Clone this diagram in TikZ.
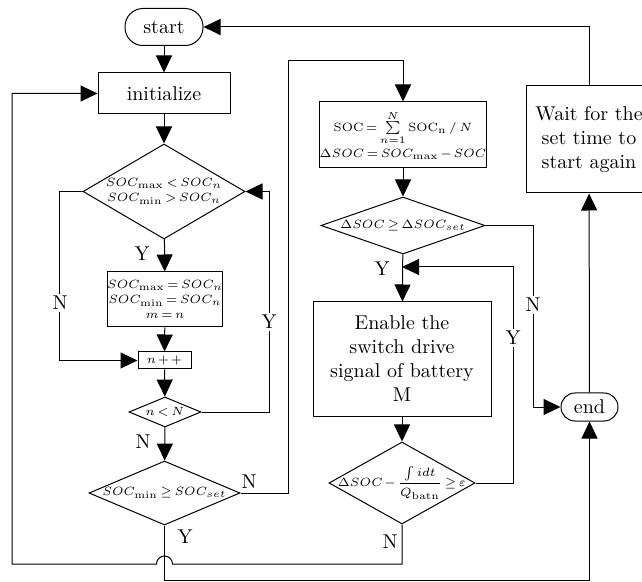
\documentclass[tikz,border=0pt]{standalone}
\usepackage{amsmath,amssymb}
\usetikzlibrary{arrows.meta,shapes.geometric}

% small, tight maths for the boxes and diamonds
\newcommand\eqsize{\fontsize{6.5}{7.5}\selectfont\medmuskip=2mu\thickmuskip=3mu}

\begin{document}
\begin{tikzpicture}[x=0.5pt,y=-0.5pt,line width=0.5pt,>={Triangle[length=8.5pt,width=8pt]},
  proc/.style={draw,inner sep=1pt,align=center},
  term/.style={draw,rounded corners=9pt,inner sep=0pt},
  dec/.style={draw,diamond,inner sep=0pt},
  dtext/.style={font=\eqsize,align=center,inner sep=0pt},
  lbl/.style={fill=white,inner sep=1pt}]
\useasboundingbox (0,0) rectangle (642,582);

% left column
\node[term,minimum width=39pt,minimum height=18.5pt] (start) at (164,27) {start};
\node[proc,minimum width=66pt,minimum height=20.5pt] (init) at (164,93.5) {initialize};
\node[dec,minimum width=81pt,minimum height=47.5pt,
  label={[dtext]center:{$SOC_{\max}<SOC_n$\\$SOC_{\min}>SOC_n$}}] (cmp) at (164,191.5) {};
\node[proc,font=\eqsize,minimum width=56pt,minimum height=27.5pt,inner sep=0pt] (upd) at (165,299.5) {$SOC_{\max}=SOC_n$\\$SOC_{\min}=SOC_n$\\$m=n$};
\node[proc,font=\eqsize,minimum width=26.5pt,minimum height=8.5pt,inner sep=0pt] (inc) at (164.5,360.5) {$n++$};
\node[dec,minimum width=36pt,minimum height=15pt,label={[dtext]center:$n<N$}] (cnt) at (165,412) {};
\node[dec,minimum width=75.5pt,minimum height=32pt,
  label={[dtext]center:$SOC_{\min}\geq SOC_{set}$}] (low) at (164.5,493) {};

% middle column
\node[proc,font=\eqsize,minimum width=82pt,minimum height=33pt,inner sep=0pt] (avg) at (403,135)
  {$\mathrm{SOC}=\sum\limits_{n=1}^{N}\mathrm{SOC}_{\mathrm{n}}\,/\,N$\\[1pt]$\Delta SOC=SOC_{\max}-SOC$};
\node[dec,minimum width=82pt,minimum height=28.5pt,
  label={[dtext]center:$\Delta SOC\geq\Delta SOC_{set}$}] (dif) at (403,225.5) {};
\coordinate (j1) at (402,267);
\node[proc,minimum width=89pt,minimum height=57pt] (enb) at (402,359) {Enable the\\switch drive\\signal of battery\\M};
\node[dec,minimum width=73pt,minimum height=41pt,
  label={[dtext]center:$\Delta SOC-\dfrac{\int idt}{Q_{\mathrm{batn}}}\geq\varepsilon$}] (chk) at (402,483) {};

% right column
\node[term,minimum width=28.5pt,minimum height=14pt,rounded corners=7pt] (stop) at (589.5,407) {end};
\node[proc,minimum width=63pt,minimum height=53.5pt] (wait) at (589,139.5) {Wait for the\\set time to\\start again};

\coordinate (hop) at (164.5,564);
\coordinate (up) at (288,61);
\coordinate (bot) at (164.5,580);

\draw[->] (start) -- (init);
\draw[->] (init) -- (cmp);
\draw[->] (cmp) -- (upd);
\draw[->] (upd) -- (inc);
\draw[->] (cmp.west) -- ++(-23,0) |- (inc.west);
\draw[->] (inc) -- (cnt);
\draw[->] (cnt.east) -- ++(68,0) |- (cmp.east);
\draw[->] (cnt) -- (low);
\draw[->] (low.east) -| (up) -| (avg.north);
\draw[->] (avg) -- (dif);
\draw[->] (dif) -- (enb);
\draw[->] (dif.east) -- ++(48,0) |- (stop.west);
\draw[->] (enb) -- (chk);
\draw[->] (chk.east) -- ++(38,0) |- (j1);
\draw[->] (chk.south) |- ([xshift=4pt]hop) arc[start angle=0,end angle=180,radius=4pt] -- ++(-144.5,0) |- (init.west);
\draw[->] (low.south) -- (bot) -| (stop.south);
\draw[->] (stop) -- (wait);
\draw[->] (wait.north) |- (start.east);

% branch labels
\node (y1) at (142,254) {Y};
\node[lbl] (n1) at (60,303) {N};
\node[lbl] (y2) at (269,322) {Y};
\node (n2) at (143,442) {N};
\node (n3) at (249,482) {N};
\node (y3) at (185,537) {Y};
\node (y4) at (382,269) {Y};
\node[lbl] (n4) at (533,305) {N};
\node[lbl] (y5) at (513,338) {Y};
\node (n5) at (390,542) {N};
\end{tikzpicture}
\end{document}
